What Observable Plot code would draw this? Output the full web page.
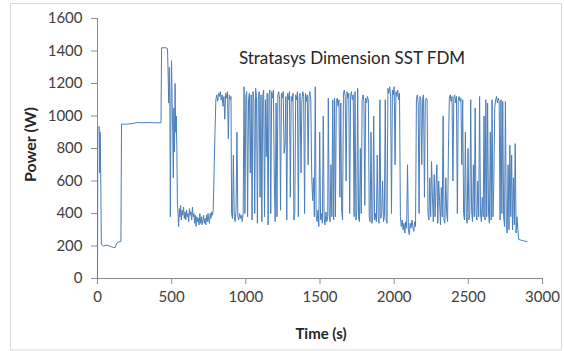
<!DOCTYPE html>
<html>
<head>
<meta charset="utf-8">
<script src="https://cdn.jsdelivr.net/npm/d3@7"></script>
<script src="https://cdn.jsdelivr.net/npm/@observablehq/plot@0.6"></script>
<style>
  html, body { margin: 0; padding: 0; background: #fff; }
  #chart svg { display: block; }
  g[aria-label$="-axis tick"], .tick line { stroke: #8c8c8c; }
</style>
</head>
<body>
<div id="chart"></div>
<script>
const chartTitle = "Stratasys Dimension SST FDM";
const xLabel = "Time (s)";
const yLabel = "Power (W)";
const xTicks = [0, 500, 1000, 1500, 2000, 2500, 3000];
const yTicks = [0, 200, 400, 600, 800, 1000, 1200, 1400, 1600];

const time = [
  0, 2, 12, 15, 18, 22, 26, 40, 60, 80, 95, 110, 120, 128, 140, 158, 162, 200, 250, 260, 300, 350, 400, 428,
  432, 460, 472, 476, 480, 484, 488, 491, 495, 499, 503, 507, 511, 515, 519, 523, 527, 531, 535, 539, 543, 547,
  552, 556, 560, 565, 570, 575, 580, 585, 590, 595, 600, 605, 610, 615, 620, 625, 630, 635, 640, 645, 650, 655,
  660, 665, 670, 675, 680, 685, 690, 695, 700, 705, 710, 715, 720, 725, 730, 735, 740, 745, 750, 755, 760, 765,
  770, 775,
  780, 786, 792, 798, 804, 810, 816, 822, 828, 834, 840, 846, 852, 858, 864, 870, 876, 882, 888, 894, 900,
  904, 910, 916, 922, 928, 934, 940, 946, 952, 958, 964, 970, 976, 982,
  988, 994, 1000, 1006, 1012, 1018, 1024, 1030, 1036, 1042, 1048, 1054, 1060, 1066, 1072, 1078, 1084, 1090,
  1096, 1102, 1108, 1114, 1120, 1126, 1132, 1138, 1144, 1150, 1156, 1162, 1168,
  1174, 1180, 1186, 1192, 1198, 1204, 1210, 1216, 1222, 1228, 1234, 1240, 1246, 1252, 1258, 1264, 1270, 1276,
  1282, 1288, 1294, 1300, 1306, 1312, 1318, 1324, 1330, 1336, 1342, 1348, 1354, 1360, 1366, 1372, 1378, 1384,
  1390, 1396, 1402, 1408, 1414, 1420, 1426, 1432, 1438, 1444,
  1450, 1456, 1462, 1468, 1474, 1480, 1486, 1492, 1498, 1504, 1510, 1516, 1522, 1528, 1534, 1540, 1546, 1552,
  1556, 1562, 1568, 1574, 1580, 1586, 1592, 1598, 1604, 1610, 1616, 1622, 1628, 1634, 1640, 1646, 1652, 1658,
  1664, 1670, 1676, 1682, 1688, 1694, 1700, 1706, 1712, 1718, 1724, 1730, 1736, 1742, 1748, 1754, 1760, 1766,
  1772, 1778, 1784, 1790, 1796, 1802, 1808, 1814, 1820, 1826, 1832, 1838, 1844, 1850, 1856, 1862, 1868, 1874,
  1880, 1886, 1892, 1898, 1904, 1910, 1916, 1922, 1928, 1934, 1940, 1946, 1952,
  1958, 1964, 1970, 1976, 1982, 1988, 1994, 2000, 2006, 2012, 2018, 2024, 2030, 2036,
  2042, 2048, 2054, 2060, 2066, 2072, 2078, 2084, 2090, 2096, 2102, 2108, 2114, 2120, 2126, 2132, 2138, 2144,
  2150, 2156, 2162, 2168, 2174, 2180, 2186, 2192, 2198, 2204, 2210, 2216, 2222,
  2228, 2234, 2240, 2246, 2252, 2258, 2264, 2270, 2276, 2282, 2288, 2294, 2300, 2306, 2312, 2318, 2324, 2330,
  2336, 2342, 2348, 2354, 2360, 2366,
  2372, 2378, 2384, 2390, 2396, 2402, 2408, 2414, 2420, 2426, 2432, 2438, 2444, 2450, 2456, 2462,
  2468, 2474, 2480, 2486, 2492, 2498, 2504, 2510, 2516, 2522, 2528, 2534, 2540, 2546, 2552, 2558, 2564, 2570,
  2576, 2582, 2588, 2594, 2600, 2606, 2612, 2618, 2624, 2630, 2636, 2642, 2648, 2654, 2660, 2666, 2672, 2678,
  2684, 2690, 2696, 2702, 2708, 2714, 2720, 2726, 2732, 2738, 2744, 2750, 2756, 2762, 2768, 2774, 2780, 2786,
  2792, 2798, 2804, 2810, 2816, 2822, 2828, 2834, 2840, 2860, 2880, 2895
];

const power = [
  0, 930, 935, 650, 900, 600, 210, 200, 205, 200, 195, 190, 192, 215, 225, 228, 950, 950, 955, 960, 958, 960, 958, 958,
  1420, 1420, 1415, 1260, 1080, 1300, 1050, 380, 1000, 1340, 1100, 900, 620, 1050, 780, 1200, 900, 1000, 800, 450, 400, 320,
  430, 380, 450, 360, 420, 390, 440, 370, 410, 360, 420, 380, 400, 350, 430, 390, 410, 360, 440, 380, 400, 340,
  390, 320, 380, 350, 370, 330, 400, 340, 380, 330, 360, 390, 340, 370, 330, 390, 350, 400, 360, 340, 400, 370,
  410, 390,
  420, 650, 900, 1100, 1130, 1090, 1140, 1120, 1150, 1100, 1130, 1060, 1120, 980, 1140, 1110, 1150, 860, 1130, 1100, 1120,
  400, 370, 760, 380, 350, 420, 900, 380, 360, 400, 370, 390, 350, 400,
  1180, 400, 1120, 1150, 380, 1100, 1140, 650, 1130, 360, 1150, 1100, 400, 1170, 1120, 340, 1100, 1150,
  500, 1130, 350, 1120, 1160, 380, 1100, 750, 1140, 330, 1130, 1160, 400,
  1150, 1110, 1160, 600, 350, 1080, 380, 1130, 1150, 1100, 420, 1140, 1110, 1150, 770, 820, 1120, 360,
  1140, 1100, 1150, 500, 1120, 1090, 1140, 360, 400, 1130, 1100, 1150, 380, 1120, 1140, 650, 1100, 1150,
  1120, 400, 1140, 1090, 1130, 700, 1120, 1150, 1100, 640,
  480, 620, 380, 1180, 390, 350, 420, 320, 900, 360, 400, 340, 1000, 370, 330, 410, 350, 380,
  1110, 400, 350, 700, 380, 1100, 360, 1110, 380, 1090, 1110, 1060, 1100, 500, 1080, 420, 360, 1140,
  1160, 1120, 600, 1150, 1110, 1140, 400, 1120, 1150, 1100, 1130, 380, 1150, 360, 410, 1170, 370, 350,
  800, 400, 1100, 1130, 1090, 450, 1110, 1080, 1120, 1100, 380, 350, 900, 340, 380, 1000, 360, 400,
  350, 760, 380, 340, 1100, 370, 400, 600, 350, 380, 1100, 360, 340,
  1170, 1140, 1180, 1120, 400, 1160, 1130, 1180, 700, 1150, 1120, 1160, 1100, 1140,
  380, 320, 360, 300, 340, 280, 350, 310, 700, 300, 270, 340, 310, 360, 320, 290, 350, 320,
  1100, 1130, 1080, 400, 1120, 1100, 700, 1110, 1130, 500, 1090, 1110, 1100,
  400, 360, 620, 380, 720, 500, 350, 640, 380, 560, 700, 340, 600, 480, 330, 560, 380, 1000,
  360, 340, 620, 400, 350, 800,
  1110, 1130, 1090, 1120, 600, 1110, 1130, 1080, 1120, 400, 1100, 1120, 1090, 1110, 700, 1100,
  400, 360, 900, 380, 340, 800, 360, 400, 1100, 420, 350, 700, 380, 1050, 400, 360, 600, 380,
  1120, 400, 350, 500, 380, 1000, 360, 1100, 380, 1080, 400, 340, 900, 360, 1100, 380, 600, 1050,
  1100, 1120, 1080, 1110, 1090, 360, 1100, 400, 1090, 380, 320, 1090, 330, 280, 700, 300, 820, 380,
  760, 300, 620, 330, 830, 280, 380, 300, 240, 235, 230, 228
];

const data = time.map((t, i) => ({t, p: power[i]}));

const chart = Plot.plot({
  width: 564,
  height: 351,
  marginLeft: 97,
  marginRight: 22,
  marginTop: 18,
  marginBottom: 73,
  style: {fontFamily: "Lato, sans-serif", fontSize: "15px", color: "#404040", background: "#fff"},
  x: {domain: [0, 3000], ticks: xTicks, tickSize: 6, tickPadding: 7, tickFormat: d => String(d), label: null},
  y: {domain: [0, 1600], ticks: yTicks, tickSize: 6, tickPadding: 9, tickFormat: d => String(d), label: null},
  marks: [
    Plot.ruleY([0], {stroke: "#8c8c8c"}),
    Plot.ruleX([0], {stroke: "#8c8c8c"}),
    Plot.line(data, {x: "t", y: "p", stroke: "#4a7ebb", strokeWidth: 1}),
    Plot.text([chartTitle], {frameAnchor: "top", textAnchor: "middle", lineAnchor: "top", dx: 32, dy: 33, fontSize: 17, fill: "#262626"}),
    Plot.text([xLabel], {frameAnchor: "bottom", textAnchor: "middle", dx: 1, dy: 60, fontSize: 15, fontWeight: "bold", fill: "#262626"}),
    Plot.text([yLabel], {frameAnchor: "left", textAnchor: "middle", rotate: -90, dx: -67, dy: -4, fontSize: 16, fontWeight: "bold", fill: "#262626"})
  ]
});

d3.select(chart).insert("rect", ":first-child")
  .attr("x", 10.5).attr("y", 3.5).attr("width", 551).attr("height", 346.5)
  .attr("fill", "none").attr("stroke", "#d9d9d9");

document.getElementById("chart").appendChild(chart);
</script>
</body>
</html>
